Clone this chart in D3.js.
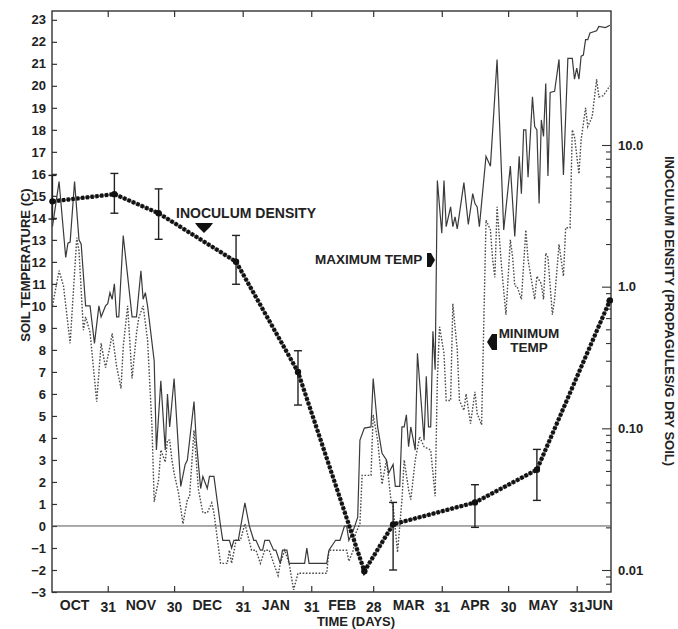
<!DOCTYPE html>
<html>
<head>
<meta charset="utf-8">
<script src="https://cdn.jsdelivr.net/npm/d3@7"></script>
<style>
  html, body { margin: 0; padding: 0; background: #fff; }
  svg text { font-family: "Liberation Sans", Arial, sans-serif; font-weight: bold; fill: #222; }
</style>
</head>
<body>
<svg id="chart" width="678" height="629"></svg>
<script>
// days counted from Oct 1 (day 0)
const monthEndDays = [30, 60, 91, 122, 150, 181, 211, 242];
const monthEndLabels = ["31", "30", "31", "31", "28", "31", "30", "31"];
const monthMidDays = [15, 45, 75, 106, 136, 166, 196, 227, 252];
const monthNames = ["OCT", "NOV", "DEC", "JAN", "FEB", "MAR", "APR", "MAY", "JUN"];

const tempTicks = d3.range(-3, 24);

// daily maximum soil temperature (C)
const maxDays = [5,8,11,12,13,15,17,18,20,22,24,26,27,29,30,31,32,33,34,35,37,41,43,45,46,47,48,51,52,54,56,57,58,60,63,65,66,69,70,72,73,75,76,78,81,82,85,86,87,89,92,94,96,97,99,100,101,103,105,106,108,109,111,112,119,120,121,129,130,133,135,137,138,139,141,143,144,146,149,150,152,154,156,157,159,160,162,163,164,165,166,167,169,170,173,174,175,176,177,178,179,181,182,183,185,186,187,188,191,193,195,196,197,198,201,203,206,209,212,214,216,217,218,219,220,222,223,224,225,226,227,228,229,230,232,234,236,238,240,241,242,243,244,245,246,247,248,251,252,255,257];
const maxTemps = [13.6,15.65,12.2,12.85,12.9,15.65,13.0,12.8,10.0,10.0,8.3,10.0,9.5,10.0,10.1,10.6,10.3,11.0,9.5,9.5,13.2,9.5,9.5,11.6,10.3,10.6,10.0,7.5,3.45,6.6,3.45,6.0,4.5,6.7,1.8,2.8,3.0,5.65,3.9,1.7,2.25,1.7,2.25,2.25,0.0,-0.65,-0.65,-1.0,-0.65,-0.65,1.05,0.0,-0.65,-0.65,-1.1,-1.1,-0.65,-0.65,-1.1,-1.1,-1.7,-1.1,-1.1,-1.7,-1.7,-1.0,-1.7,-1.7,-1.1,-0.65,-0.65,0.0,0.0,-0.65,-0.2,0.4,3.9,4.45,4.5,6.7,4.5,3.3,3.0,2.4,2.8,1.8,1.8,4.5,4.5,5.05,3.6,4.5,3.45,7.85,3.9,6.8,4.5,4.5,8.85,7.1,15.7,13.3,15.7,13.6,14.5,13.6,14.05,13.5,15.6,13.7,15.1,14.65,14.5,13.6,16.8,16.35,21.2,13.45,16.35,13.15,16.8,15.1,18.0,18.0,15.85,19.5,18.15,18.0,14.65,18.45,17.7,20.1,15.9,19.7,19.75,21.2,15.95,21.25,21.25,20.3,20.8,20.3,21.35,21.4,22.1,22.1,22.4,22.5,22.7,22.65,22.75];

// daily minimum soil temperature (C)
const minDays = [5,8,10,13,16,17,19,20,22,25,27,29,31,32,34,36,37,39,41,43,44,46,48,50,51,53,54,56,57,58,59,60,62,64,66,67,69,71,73,75,77,78,81,84,85,86,88,90,92,95,97,99,101,103,105,107,108,110,112,114,116,129,130,138,139,141,142,144,145,149,150,152,154,156,158,159,161,163,164,166,167,169,171,173,176,178,179,180,182,183,185,186,188,189,191,192,194,196,197,199,201,203,204,205,206,208,210,212,213,214,215,217,219,220,222,223,224,226,227,228,229,231,232,234,236,237,239,240,241,243,244,246,247,249,251,252,254,257];
const minTemps = [10.0,11.6,10.9,8.3,13.1,12.5,8.9,9.5,8.8,5.65,8.3,7.2,8.15,8.75,7.25,6.25,8.15,10.0,6.7,8.75,9.45,10.0,8.45,4.5,1.1,2.1,3.45,2.9,3.9,3.9,3.0,2.4,1.5,0.1,1.2,1.35,4.35,1.65,0.6,0.6,1.05,0.6,-1.7,-1.7,-1.1,-1.7,-0.65,-0.65,0.1,-1.1,-1.1,-1.7,-1.1,-1.1,-1.7,-2.25,-1.7,-1.1,-1.7,-2.9,-2.15,-2.15,-1.1,-1.1,-1.6,-1.1,-0.35,0.1,2.3,2.3,5.05,3.9,1.9,3.0,1.2,0.9,-1.2,1.2,3.0,1.65,1.2,3.0,4.05,3.6,3.45,1.35,6.65,9.05,7.85,5.7,5.7,10.1,8.0,5.7,5.25,6.0,4.65,6.1,5.1,4.6,13.9,13.45,12.1,11.3,14.5,11.8,9.6,13.0,12.25,10.9,10.9,10.3,13.45,12.1,10.9,10.3,11.35,11.0,10.3,12.4,12.2,9.6,10.3,12.8,11.35,13.55,13.55,18.0,17.7,16.0,17.55,19.0,18.15,18.6,20.3,19.5,19.55,20.0];

// inoculum density (propagules / g dry soil)
const densDays = [5, 33, 53, 88, 116, 146, 159, 196, 224, 257];
const densVals = [4.0, 4.5, 3.3, 1.5, 0.25, 0.0098, 0.021, 0.030, 0.051, 0.80];
const densLo = [3.0, 3.3, 2.16, 1.04, 0.146, null, 0.01, 0.020, 0.031, null];
const densHi = [6.1, 6.3, 4.9, 2.3, 0.353, null, 0.030, 0.040, 0.071, null];

const densLabels = {0.01: "0.01", 0.1: "0.10", 1: "1.0", 10: "10.0"};

const mLeft = 52, mRight = 611, mTop = 11, mBottom = 592;

const svg = d3.select("#chart");
svg.append("rect").attr("width", 678).attr("height", 629).attr("fill", "#fff");

const x = d3.scaleLinear().domain([4.8, 257.5]).range([mLeft, mRight]);
const y = d3.scaleLinear().domain([-3, 23.4]).range([mBottom, mTop]);
const yR = d3.scaleLog().domain([0.01, 10]).range([570, 145]);

// log ticks for right axis
let densTicks = [];
[0.001, 0.01, 0.1, 1].forEach(dec => {
  for (let k = 1; k <= 9; k++) densTicks.push(+(k * dec).toPrecision(3));
});
densTicks.push(10);
densTicks = densTicks.filter(v => yR(v) <= mBottom - 1 && yR(v) >= mTop);

// frame
svg.append("rect")
  .attr("x", mLeft).attr("y", mTop)
  .attr("width", mRight - mLeft).attr("height", mBottom - mTop)
  .attr("fill", "none").attr("stroke", "#333").attr("stroke-width", 1.4);

// left axis
const gl = svg.append("g").attr("transform", `translate(${mLeft},0)`)
  .call(d3.axisLeft(y).tickValues(tempTicks).tickSize(-5).tickSizeOuter(0).tickPadding(6)
    .tickFormat(d => d < 0 ? "\u2212" + Math.abs(d) : d));
gl.select(".domain").remove();
gl.selectAll("line").attr("stroke", "#333").attr("stroke-width", 1.2);
gl.selectAll("text").style("font-size", "13px");

// bottom axis
const gb = svg.append("g").attr("transform", `translate(0,${mBottom})`)
  .call(d3.axisBottom(x).tickValues(monthEndDays).tickSize(-6).tickSizeOuter(0).tickPadding(10)
    .tickFormat((d, i) => monthEndLabels[i]));
gb.select(".domain").remove();
gb.selectAll("line").attr("stroke", "#333").attr("stroke-width", 1.2);
gb.selectAll("text").style("font-size", "14px");

// top axis (ticks only)
const gt = svg.append("g").attr("transform", `translate(0,${mTop})`)
  .call(d3.axisTop(x).tickValues(monthEndDays).tickSize(-6).tickSizeOuter(0).tickFormat(""));
gt.select(".domain").remove();
gt.selectAll("line").attr("stroke", "#333").attr("stroke-width", 1.2);

// month names
svg.append("g").selectAll("text")
  .data(monthNames)
  .join("text")
  .attr("x", (d, i) => x(monthMidDays[i]))
  .attr("y", 610)
  .attr("text-anchor", "middle")
  .style("font-size", "14px")
  .text(d => d);

// right axis
const gr = svg.append("g").attr("transform", `translate(${mRight},0)`)
  .call(d3.axisRight(yR).tickValues(densTicks).tickSize(-5).tickSizeOuter(0).tickPadding(7)
    .tickFormat(d => densLabels[d] || ""));
gr.select(".domain").remove();
gr.selectAll("line").attr("stroke", "#333").attr("stroke-width", 1.1)
  .attr("x2", d => densLabels[d] ? -9 : -5);
gr.selectAll("text").style("font-size", "13px");

// axis titles
svg.append("text")
  .attr("transform", "translate(30,265) rotate(-90)")
  .attr("text-anchor", "middle")
  .style("font-size", "13px")
  .text("SOIL TEMPERATURE (C)");

svg.append("text")
  .attr("transform", "translate(665,311) rotate(90)")
  .attr("text-anchor", "middle")
  .style("font-size", "13px")
  .text("INOCULUM DENSITY (PROPAGULES/G DRY SOIL)");

svg.append("text")
  .attr("x", 356).attr("y", 626)
  .attr("text-anchor", "middle")
  .style("font-size", "13px")
  .text("TIME (DAYS)");

// zero line
svg.append("line")
  .attr("x1", mLeft).attr("x2", mRight)
  .attr("y1", y(0)).attr("y2", y(0))
  .attr("stroke", "#555").attr("stroke-width", 1);

const tline = d3.line().x(d => x(d[0])).y(d => y(d[1]));

// minimum temperature (dotted)
svg.append("path")
  .datum(minDays.map((d, i) => [d, minTemps[i]]))
  .attr("d", tline)
  .attr("fill", "none")
  .attr("stroke", "#4a4a4a")
  .attr("stroke-width", 1.4)
  .attr("stroke-dasharray", "1.6,1.6");

// maximum temperature (solid)
svg.append("path")
  .datum(maxDays.map((d, i) => [d, maxTemps[i]]))
  .attr("d", tline)
  .attr("fill", "none")
  .attr("stroke", "#3a3a3a")
  .attr("stroke-width", 1.2);

// inoculum density
const dens = densDays.map((d, i) => ({day: d, v: densVals[i], lo: densLo[i], hi: densHi[i]}));
const dline = d3.line().x(d => x(d.day)).y(d => yR(d.v));

svg.append("path")
  .datum(dens)
  .attr("d", dline)
  .attr("fill", "none")
  .attr("stroke", "#666")
  .attr("stroke-width", 2.4);
svg.append("path")
  .datum(dens)
  .attr("d", dline)
  .attr("fill", "none")
  .attr("stroke", "#111")
  .attr("stroke-width", 4.2)
  .attr("stroke-dasharray", "3.2,1.6");

const eb = svg.append("g").selectAll("g")
  .data(dens.filter(d => d.lo != null))
  .join("g")
  .attr("stroke", "#222")
  .attr("stroke-width", 1.4);
eb.append("line")
  .attr("x1", d => x(d.day)).attr("x2", d => x(d.day))
  .attr("y1", d => yR(d.lo)).attr("y2", d => yR(d.hi));
eb.append("line")
  .attr("x1", d => x(d.day) - 4).attr("x2", d => x(d.day) + 4)
  .attr("y1", d => yR(d.lo)).attr("y2", d => yR(d.lo));
eb.append("line")
  .attr("x1", d => x(d.day) - 4).attr("x2", d => x(d.day) + 4)
  .attr("y1", d => yR(d.hi)).attr("y2", d => yR(d.hi));

svg.append("g").selectAll("circle")
  .data(dens)
  .join("circle")
  .attr("cx", d => x(d.day))
  .attr("cy", d => yR(d.v))
  .attr("r", 3.2)
  .attr("fill", "#111");

// annotations
svg.append("text").attr("x", 176).attr("y", 218).style("font-size", "14px").text("INOCULUM DENSITY");
svg.append("path").attr("d", "M195,223 L213,223 L210,227 L204,233 L198,227 Z").attr("fill", "#111");

svg.append("text").attr("x", 315).attr("y", 264).style("font-size", "13.5px").text("MAXIMUM TEMP");
svg.append("path").attr("d", "M427,253 L431,253 L435,260 L431,267 L427,267 Z").attr("fill", "#111");

svg.append("text").attr("x", 529).attr("y", 338).attr("text-anchor", "middle").style("font-size", "13.5px").text("MINIMUM");
svg.append("text").attr("x", 529).attr("y", 352).attr("text-anchor", "middle").style("font-size", "13.5px").text("TEMP");
svg.append("path").attr("d", "M497,334 L492,334 L487,342 L492,350 L497,350 Z").attr("fill", "#111");
</script>
</body>
</html>
